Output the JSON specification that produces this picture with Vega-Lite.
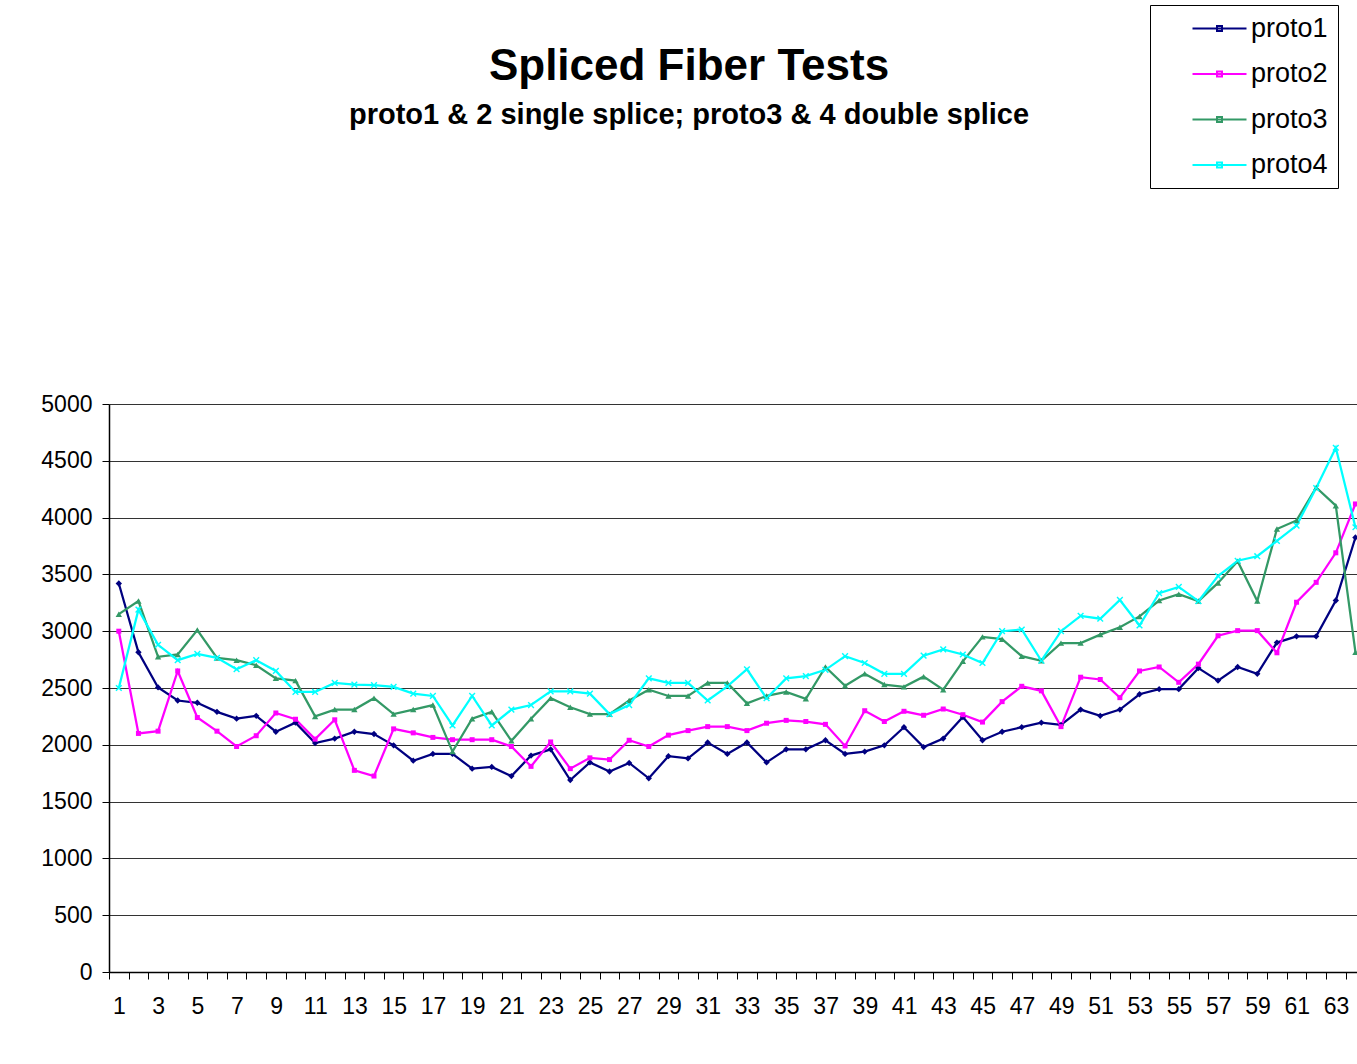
{
  "$schema": "https://vega.github.io/schema/vega-lite/v6.json",
  "autosize": {"type": "none"},
  "width": 1248,
  "height": 568,
  "padding": {"left": 109, "top": 404, "right": 0, "bottom": 92},
  "background": "#ffffff",
  "config": {
    "view": {"stroke": null},
    "font": "Liberation Sans"
  },
  "title": {
    "text": "Spliced Fiber Tests",
    "subtitle": "proto1 & 2 single splice; proto3 & 4 double splice",
    "anchor": "middle",
    "dx": -44,
    "offset": -125,
    "font": "Liberation Sans",
    "fontSize": 44,
    "fontWeight": "bold",
    "color": "#000000",
    "subtitleFont": "Liberation Sans",
    "subtitleFontSize": 29,
    "subtitleFontWeight": "bold",
    "subtitleColor": "#000000",
    "subtitlePadding": 12
  },
  "data": {
    "values": [
      {"x": 1, "proto1": 3420, "proto2": 3000, "proto3": 3150, "proto4": 2500},
      {"x": 2, "proto1": 2815, "proto2": 2100, "proto3": 3265, "proto4": 3190},
      {"x": 3, "proto1": 2505, "proto2": 2120, "proto3": 2775, "proto4": 2880},
      {"x": 4, "proto1": 2390, "proto2": 2650, "proto3": 2795, "proto4": 2745},
      {"x": 5, "proto1": 2370, "proto2": 2240, "proto3": 3010, "proto4": 2800},
      {"x": 6, "proto1": 2290, "proto2": 2120, "proto3": 2765, "proto4": 2765},
      {"x": 7, "proto1": 2230, "proto2": 1985, "proto3": 2745, "proto4": 2665},
      {"x": 8, "proto1": 2255, "proto2": 2080, "proto3": 2700, "proto4": 2745},
      {"x": 9, "proto1": 2115, "proto2": 2280, "proto3": 2585, "proto4": 2650},
      {"x": 10, "proto1": 2195, "proto2": 2225, "proto3": 2565, "proto4": 2465},
      {"x": 11, "proto1": 2015, "proto2": 2050, "proto3": 2250, "proto4": 2465},
      {"x": 12, "proto1": 2055, "proto2": 2220, "proto3": 2310, "proto4": 2545},
      {"x": 13, "proto1": 2115, "proto2": 1775, "proto3": 2310, "proto4": 2530},
      {"x": 14, "proto1": 2095, "proto2": 1725, "proto3": 2410, "proto4": 2525},
      {"x": 15, "proto1": 1995, "proto2": 2140, "proto3": 2270, "proto4": 2510},
      {"x": 16, "proto1": 1860, "proto2": 2105, "proto3": 2310, "proto4": 2450},
      {"x": 17, "proto1": 1920, "proto2": 2065, "proto3": 2350, "proto4": 2430},
      {"x": 18, "proto1": 1920, "proto2": 2045, "proto3": 1940, "proto4": 2170},
      {"x": 19, "proto1": 1790, "proto2": 2045, "proto3": 2230, "proto4": 2430},
      {"x": 20, "proto1": 1805, "proto2": 2045, "proto3": 2290, "proto4": 2170},
      {"x": 21, "proto1": 1725, "proto2": 1985, "proto3": 2035, "proto4": 2310},
      {"x": 22, "proto1": 1905, "proto2": 1810, "proto3": 2230, "proto4": 2350},
      {"x": 23, "proto1": 1960, "proto2": 2025, "proto3": 2410, "proto4": 2470},
      {"x": 24, "proto1": 1690, "proto2": 1790, "proto3": 2330, "proto4": 2470},
      {"x": 25, "proto1": 1845, "proto2": 1885, "proto3": 2270, "proto4": 2450},
      {"x": 26, "proto1": 1765, "proto2": 1870, "proto3": 2270, "proto4": 2270},
      {"x": 27, "proto1": 1840, "proto2": 2040, "proto3": 2390, "proto4": 2350},
      {"x": 28, "proto1": 1705, "proto2": 1985, "proto3": 2485, "proto4": 2585},
      {"x": 29, "proto1": 1900, "proto2": 2085, "proto3": 2430, "proto4": 2545},
      {"x": 30, "proto1": 1880, "proto2": 2125, "proto3": 2430, "proto4": 2545},
      {"x": 31, "proto1": 2020, "proto2": 2160, "proto3": 2545, "proto4": 2390},
      {"x": 32, "proto1": 1920, "proto2": 2160, "proto3": 2545, "proto4": 2515},
      {"x": 33, "proto1": 2020, "proto2": 2125, "proto3": 2365, "proto4": 2665},
      {"x": 34, "proto1": 1845, "proto2": 2190, "proto3": 2430, "proto4": 2410},
      {"x": 35, "proto1": 1960, "proto2": 2215, "proto3": 2465, "proto4": 2585},
      {"x": 36, "proto1": 1960, "proto2": 2205, "proto3": 2405, "proto4": 2605},
      {"x": 37, "proto1": 2040, "proto2": 2180, "proto3": 2685, "proto4": 2660},
      {"x": 38, "proto1": 1920, "proto2": 1990, "proto3": 2520, "proto4": 2780},
      {"x": 39, "proto1": 1940, "proto2": 2300, "proto3": 2625, "proto4": 2720},
      {"x": 40, "proto1": 1995, "proto2": 2205, "proto3": 2530, "proto4": 2625},
      {"x": 41, "proto1": 2155, "proto2": 2295, "proto3": 2510, "proto4": 2625},
      {"x": 42, "proto1": 1980, "proto2": 2260, "proto3": 2600, "proto4": 2785},
      {"x": 43, "proto1": 2055, "proto2": 2315, "proto3": 2485, "proto4": 2840},
      {"x": 44, "proto1": 2245, "proto2": 2265, "proto3": 2735, "proto4": 2795},
      {"x": 45, "proto1": 2040, "proto2": 2200, "proto3": 2950, "proto4": 2720},
      {"x": 46, "proto1": 2115, "proto2": 2380, "proto3": 2930, "proto4": 3000},
      {"x": 47, "proto1": 2155, "proto2": 2515, "proto3": 2780, "proto4": 3015},
      {"x": 48, "proto1": 2195, "proto2": 2475, "proto3": 2740, "proto4": 2740},
      {"x": 49, "proto1": 2175, "proto2": 2160, "proto3": 2895, "proto4": 3000},
      {"x": 50, "proto1": 2310, "proto2": 2595, "proto3": 2895, "proto4": 3135},
      {"x": 51, "proto1": 2255, "proto2": 2575, "proto3": 2970, "proto4": 3110},
      {"x": 52, "proto1": 2310, "proto2": 2415, "proto3": 3035, "proto4": 3275},
      {"x": 53, "proto1": 2445, "proto2": 2650, "proto3": 3130, "proto4": 3050},
      {"x": 54, "proto1": 2490, "proto2": 2685, "proto3": 3270, "proto4": 3335},
      {"x": 55, "proto1": 2490, "proto2": 2550, "proto3": 3325, "proto4": 3390},
      {"x": 56, "proto1": 2675, "proto2": 2710, "proto3": 3265, "proto4": 3265},
      {"x": 57, "proto1": 2565, "proto2": 2960, "proto3": 3425, "proto4": 3485},
      {"x": 58, "proto1": 2685, "proto2": 3005, "proto3": 3615, "proto4": 3620},
      {"x": 59, "proto1": 2625, "proto2": 3005, "proto3": 3265, "proto4": 3660},
      {"x": 60, "proto1": 2900, "proto2": 2810, "proto3": 3900, "proto4": 3795},
      {"x": 61, "proto1": 2955, "proto2": 3255, "proto3": 3975, "proto4": 3930},
      {"x": 62, "proto1": 2955, "proto2": 3430, "proto3": 4265, "proto4": 4260},
      {"x": 63, "proto1": 3270, "proto2": 3690, "proto3": 4105, "proto4": 4615},
      {"x": 64, "proto1": 3825, "proto2": 4120, "proto3": 2815, "proto4": 3915}
    ]
  },
  "transform": [
    {"fold": ["proto1", "proto2", "proto3", "proto4"], "as": ["series", "value"]}
  ],
  "encoding": {
    "x": {
      "field": "x",
      "type": "quantitative",
      "scale": {"domain": [0.5, 64.08], "nice": false, "zero": false},
      "axis": {
        "title": null,
        "values": [0.5,1.5,2.5,3.5,4.5,5.5,6.5,7.5,8.5,9.5,10.5,11.5,12.5,13.5,14.5,15.5,16.5,17.5,18.5,19.5,20.5,21.5,22.5,23.5,24.5,25.5,26.5,27.5,28.5,29.5,30.5,31.5,32.5,33.5,34.5,35.5,36.5,37.5,38.5,39.5,40.5,41.5,42.5,43.5,44.5,45.5,46.5,47.5,48.5,49.5,50.5,51.5,52.5,53.5,54.5,55.5,56.5,57.5,58.5,59.5,60.5,61.5,62.5,63.5],
        "labelExpr": "(datum.value + 0.5) % 2 == 1 ? format(datum.value + 0.5, 'd') : ''",
        "labelOffset": 10,
        "labelOverlap": false,
        "labelFlush": false,
        "labelFont": "Liberation Sans",
        "labelFontSize": 23,
        "labelColor": "#000000",
        "labelPadding": 16,
        "tickSize": 7,
        "tickColor": "#000000",
        "domainColor": "#000000",
        "domainWidth": 1.5,
        "grid": false
      }
    },
    "y": {
      "field": "value",
      "type": "quantitative",
      "scale": {"domain": [0, 5000], "nice": false},
      "axis": {
        "title": null,
        "values": [0,500,1000,1500,2000,2500,3000,3500,4000,4500,5000],
        "format": "d",
        "labelFont": "Liberation Sans",
        "labelFontSize": 23,
        "labelColor": "#000000",
        "labelPadding": 10,
        "tickSize": 7,
        "tickColor": "#000000",
        "domainColor": "#000000",
        "domainWidth": 1.5,
        "grid": true,
        "gridColor": "#000000",
        "gridWidth": 1,
        "gridOpacity": 0.8
      }
    }
  },
  "layer": [
    {
      "mark": {"type": "line", "strokeWidth": 2.25},
      "encoding": {
        "color": {
          "field": "series",
          "type": "nominal",
          "scale": {"domain": ["proto1", "proto2", "proto3", "proto4"], "range": ["#000080", "#ff00ff", "#339966", "#00ffff"]},
          "legend": {
            "orient": "none",
            "legendX": 1041,
            "legendY": -399,
            "title": null,
            "strokeColor": "#000000",
            "fillColor": "#ffffff",
            "padding": 10,
            "symbolType": "M-2.16,0L2.16,0M-0.2,-0.2L0.2,-0.2L0.2,0.2L-0.2,0.2Z",
            "symbolSize": 625,
            "symbolStrokeWidth": 2,
            "symbolOffset": 46,
            "labelFont": "Liberation Sans",
            "labelFontSize": 27,
            "labelColor": "#000000",
            "labelOffset": 18,
            "rowPadding": 17.5
          }
        }
      }
    },
    {
      "transform": [{"filter": "datum.series == 'proto1'"}],
      "mark": {"type": "point", "filled": true, "opacity": 1, "shape": "diamond", "size": 40, "color": "#000080"}
    },
    {
      "transform": [{"filter": "datum.series == 'proto2'"}],
      "mark": {"type": "point", "filled": true, "opacity": 1, "shape": "square", "size": 25, "color": "#ff00ff"}
    },
    {
      "transform": [{"filter": "datum.series == 'proto3'"}],
      "mark": {"type": "point", "filled": true, "opacity": 1, "shape": "triangle-up", "size": 40, "color": "#339966"}
    },
    {
      "transform": [{"filter": "datum.series == 'proto4'"}],
      "mark": {"type": "point", "filled": true, "opacity": 1, "shape": "M-1,-0.7L-0.7,-1L0,-0.3L0.7,-1L1,-0.7L0.3,0L1,0.7L0.7,1L0,0.3L-0.7,1L-1,0.7L-0.3,0Z", "size": 45, "color": "#00ffff"}
    }
  ]
}
